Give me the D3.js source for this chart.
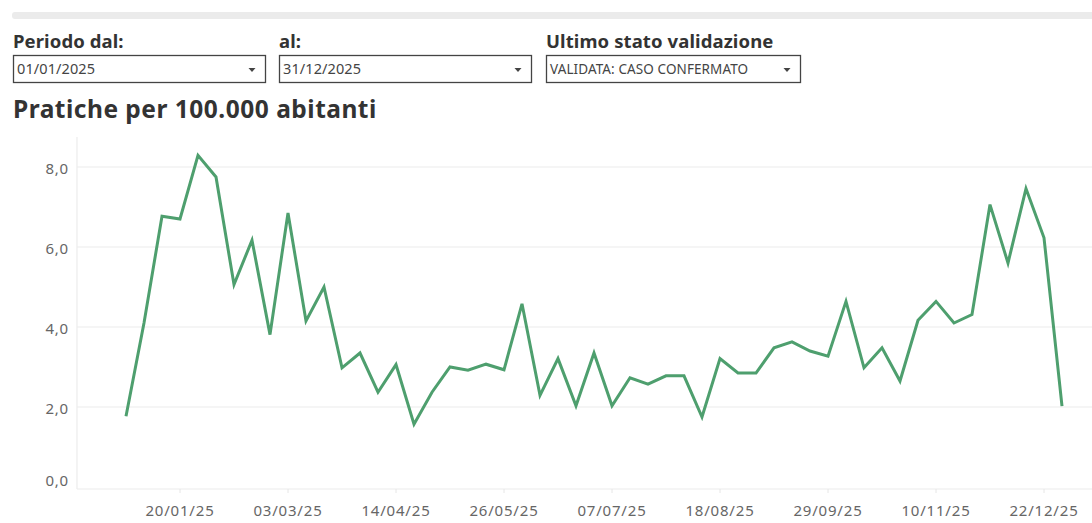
<!DOCTYPE html>
<html>
<head>
<meta charset="utf-8">
<script src="https://cdn.jsdelivr.net/npm/d3@7"></script>
<style>
  body { margin: 0; background: #fff; }
  svg { display: block; }
</style>
</head>
<body>
<div id="chart"></div>
<script>
// weekly values (Mondays from 30/12/2024)
var startWeek = "30/12/2024";
var values = [1.77, 4.10, 6.77, 6.70, 8.29, 7.75, 5.06, 6.17, 3.81, 6.85,
              4.15, 5.00, 2.98, 3.35, 2.37, 3.06, 1.57, 2.37, 3.00, 2.92,
              3.07, 2.93, 4.58, 2.29, 3.21, 2.03, 3.35, 2.03, 2.73, 2.57,
              2.78, 2.78, 1.75, 3.21, 2.85, 2.85, 3.48, 3.63, 3.40, 3.27,
              4.64, 2.98, 3.48, 2.65, 4.17, 4.64, 4.10, 4.31, 7.06, 5.60,
              7.46, 6.23, 2.02];
var xTickLabels = ["20/01/25", "03/03/25", "14/04/25", "26/05/25", "07/07/25",
                   "18/08/25", "29/09/25", "10/11/25", "22/12/25"];
var yTicks = [0, 2, 4, 6, 8];
var filters = [
  { label: "Periodo dal:", value: "01/01/2025", x: 13, w: 252 },
  { label: "al:", value: "31/12/2025", x: 279, w: 252 },
  { label: "Ultimo stato validazione", value: "VALIDATA: CASO CONFERMATO", x: 546, w: 254 }
];

var W = 1092, H = 523;
var font = "'Noto Sans', 'Open Sans', sans-serif";
var parseFull = d3.timeParse("%d/%m/%Y");
var parseShort = d3.timeParse("%d/%m/%y");
var fmt = d3.timeFormat("%d/%m/%y");

var t0 = parseFull(startWeek);
var data = values.map(function(v, i) { return { date: d3.timeWeek.offset(t0, i), value: v }; });

var svg = d3.select("#chart").append("svg").attr("width", W).attr("height", H)
  .style("font-family", font);

// top grey band
svg.append("rect").attr("x", 12).attr("y", 12).attr("width", W).attr("height", 7)
  .attr("rx", 3).style("fill", "#ebebeb");

// filter controls
var f = svg.selectAll("g.filter").data(filters).enter().append("g").attr("class", "filter")
  .attr("transform", function(d) { return "translate(" + d.x + ",0)"; });
f.append("text").attr("x", 0).attr("y", 48).text(function(d) { return d.label; })
  .style("font-size", "18.5px").style("font-weight", "bold").style("fill", "#333")
  .style("letter-spacing", "0.1px");
f.append("rect").attr("x", 0.5).attr("y", 55.5).attr("width", function(d) { return d.w; }).attr("height", 27)
  .style("fill", "#fff").style("stroke", "#444").style("stroke-width", 1.3);
f.append("text").attr("x", 4).attr("y", 74).text(function(d) { return d.value; })
  .style("font-size", function(d) { return d.value.length > 12 ? "13.5px" : "14.5px"; }).style("fill", "#444")
  .style("letter-spacing", "0.1px");
f.append("path").attr("d", function(d) { var ax = d.w - 13; return "M" + (ax - 3.5) + ",68 L" + (ax + 3.5) + ",68 L" + ax + ",72 Z"; })
  .style("fill", "#444");

// title
svg.append("text").attr("x", 13).attr("y", 118).text("Pratiche per 100.000 abitanti")
  .style("font-size", "24.5px").style("font-weight", "bold").style("fill", "#333")
  .style("letter-spacing", "0.5px");

// scales
var x = d3.scaleTime().domain([parseFull("30/12/2024"), parseFull("29/12/2025")]).range([126, 1062]);
var y = d3.scaleLinear().domain([0, 8.75]).range([487, 137]);

// gridlines
svg.selectAll("line.grid").data(yTicks.filter(function(d) { return d > 0; })).enter().append("line")
  .attr("class", "grid")
  .attr("x1", 77).attr("x2", W).attr("y1", function(d) { return y(d); }).attr("y2", function(d) { return y(d); })
  .style("stroke", "#f2f2f2").style("stroke-width", 1.5);

// axis lines
svg.append("line").attr("x1", 77).attr("x2", 77).attr("y1", 137).attr("y2", 489)
  .style("stroke", "#ececec").style("stroke-width", 1.2);
svg.append("line").attr("x1", 77).attr("x2", W).attr("y1", 489).attr("y2", 489)
  .style("stroke", "#ececec").style("stroke-width", 1.2);

// y labels
svg.selectAll("text.ylab").data(yTicks).enter().append("text").attr("class", "ylab")
  .attr("x", 69).attr("y", function(d) { return d === 0 ? y(d) - 1 : y(d) + 6.5; })
  .attr("text-anchor", "end")
  .text(function(d) { return d3.format(".1f")(d).replace(".", ","); })
  .style("font-size", "15px").style("fill", "#666").style("letter-spacing", "0.8px");

// x ticks + labels
var xTicks = xTickLabels.map(function(s) { return parseShort(s); });
svg.selectAll("line.xtick").data(xTicks).enter().append("line").attr("class", "xtick")
  .attr("x1", function(d) { return x(d); }).attr("x2", function(d) { return x(d); })
  .attr("y1", 489).attr("y2", 493).style("stroke", "#e6e6e6");
svg.selectAll("text.xlab").data(xTicks).enter().append("text").attr("class", "xlab")
  .attr("x", function(d) { return x(d); }).attr("y", 516).attr("text-anchor", "middle")
  .text(function(d) { return fmt(d); })
  .style("font-size", "15px").style("fill", "#666").style("letter-spacing", "0.8px");

// line
var line = d3.line().x(function(d) { return x(d.date); }).y(function(d) { return y(d.value); });
svg.append("path").datum(data).attr("d", line)
  .style("fill", "none").style("stroke", "#4e9f6e").style("stroke-width", 3)
  .style("stroke-linejoin", "miter").style("stroke-linecap", "butt");
</script>
</body>
</html>
